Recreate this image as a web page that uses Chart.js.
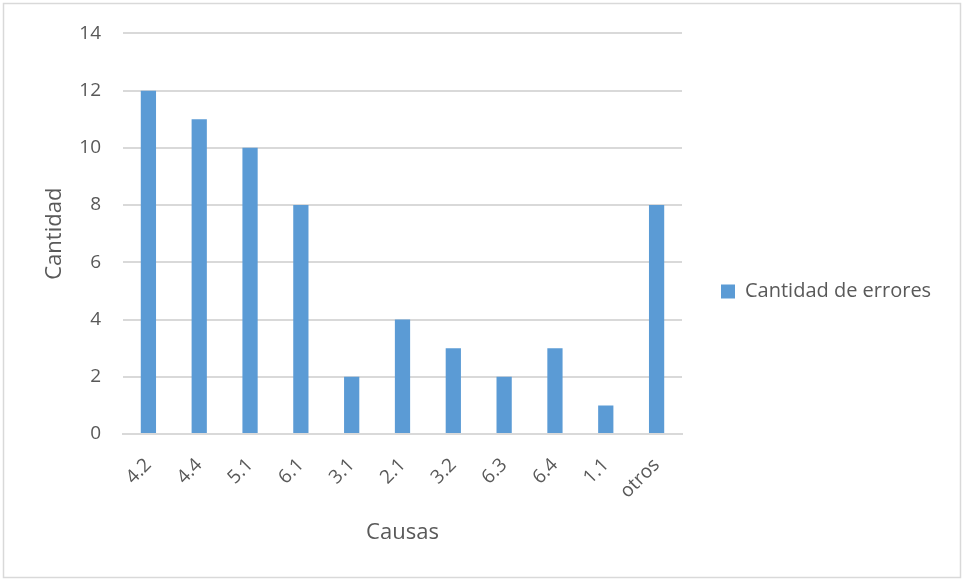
<!DOCTYPE html>
<html>
<head>
<meta charset="utf-8">
<script src="https://cdn.jsdelivr.net/npm/chart.js@4/dist/chart.umd.min.js"></script>
<style>
  html, body { margin: 0; padding: 0; background: #ffffff; }
  #wrap { position: relative; width: 963px; height: 580px; }
</style>
</head>
<body>
<div id="wrap"><canvas id="chart" width="963" height="580"></canvas></div>
<script>
// Causas de error y cantidad de errores por causa
const causas = ['4.2', '4.4', '5.1', '6.1', '3.1', '2.1', '3.2', '6.3', '6.4', '1.1', 'otros'];
const cantidadErrores = [12, 11, 10, 8, 2, 4, 3, 2, 3, 1, 8];
const ejeYMax = 14;
const ejeYPaso = 2;

const FONT = "'Open Sans', 'Liberation Sans', sans-serif";
const GRIS_TEXTO = '#595959';
const GRIS_LINEA = '#d9d9d9';
const ANCHO_LEYENDA = 281;

// Marco exterior del gráfico
const marco = {
  id: 'marco',
  afterDraw(chart) {
    const ctx = chart.ctx;
    ctx.save();
    ctx.strokeStyle = GRIS_LINEA;
    ctx.lineWidth = 1.5;
    ctx.strokeRect(3.5, 3.5, chart.width - 6, chart.height - 6);
    ctx.restore();
  }
};

// Reserva un ancho fijo para la leyenda de la derecha
const anchoLeyenda = {
  id: 'anchoLeyenda',
  beforeLayout(chart) {
    const lg = chart.legend;
    if (lg && !lg._anchoFijo) {
      const fitOriginal = lg.fit.bind(lg);
      lg.fit = function () {
        fitOriginal();
        this.width = ANCHO_LEYENDA;
      };
      lg._anchoFijo = true;
    }
  }
};

new Chart(document.getElementById('chart'), {
  type: 'bar',
  data: {
    labels: causas,
    datasets: [{
      label: 'Cantidad de errores',
      data: cantidadErrores,
      backgroundColor: '#5b9bd5',
      borderWidth: 0,
      categoryPercentage: 1,
      barPercentage: 0.3
    }]
  },
  options: {
    responsive: false,
    animation: false,
    layout: { padding: { top: 33, left: 30, right: 0, bottom: 30 } },
    plugins: {
      tooltip: { enabled: false },
      legend: {
        position: 'right',
        labels: {
          boxWidth: 14,
          boxHeight: 14,
          padding: 39,
          color: GRIS_TEXTO,
          font: { family: FONT, size: 20 }
        }
      }
    },
    scales: {
      x: {
        grid: { display: false, drawTicks: false },
        border: { display: true, color: GRIS_LINEA, width: 2 },
        ticks: {
          color: GRIS_TEXTO,
          font: { family: FONT, size: 19 },
          minRotation: 45,
          maxRotation: 45,
          padding: 20
        },
        title: {
          display: true,
          text: 'Causas',
          color: GRIS_TEXTO,
          font: { family: FONT, size: 22 },
          padding: { top: 0, bottom: 4 }
        },
        afterFit(scale) { scale.height = 116; }
      },
      y: {
        min: 0,
        max: ejeYMax,
        grid: { color: GRIS_LINEA, lineWidth: 2, drawTicks: false },
        border: { display: false },
        ticks: {
          stepSize: ejeYPaso,
          color: GRIS_TEXTO,
          font: { family: FONT, size: 19 },
          padding: 22
        },
        title: {
          display: true,
          text: 'Cantidad',
          color: GRIS_TEXTO,
          font: { family: FONT, size: 22 },
          padding: { top: 12, bottom: 0 }
        },
        afterFit(scale) { scale.width = 93; }
      }
    }
  },
  plugins: [anchoLeyenda, marco]
});
</script>
</body>
</html>
